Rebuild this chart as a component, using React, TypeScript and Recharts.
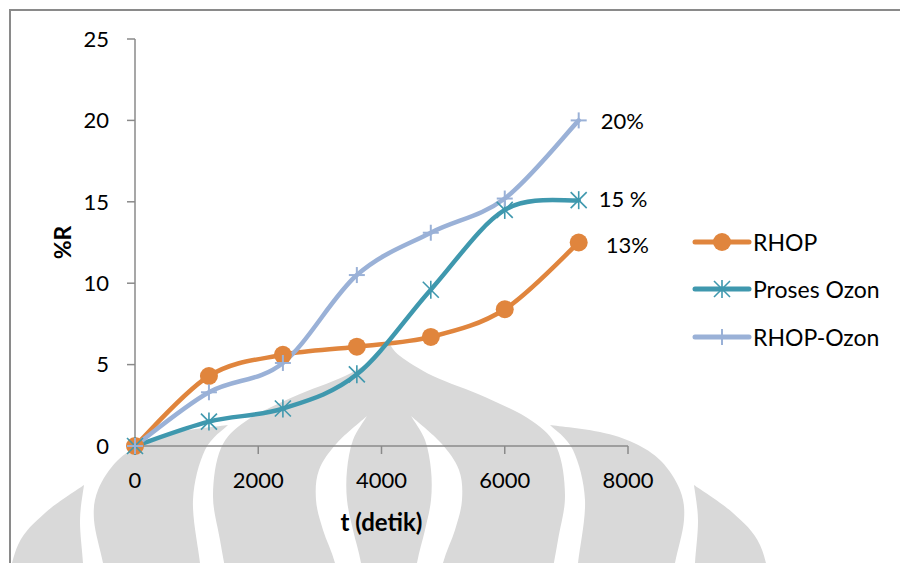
import React from 'react';
import { LineChart, Line, XAxis, YAxis, Legend, Label } from 'recharts';

// sampling times (s) and removal (%R) per treatment
const times = [0, 1200, 2400, 3600, 4800, 6000, 7200];
const rhop = [0, 4.3, 5.6, 6.1, 6.7, 8.4, 12.5];
const prosesOzon = [0, 1.5, 2.3, 4.4, 9.6, 14.5, 15.1];
const rhopOzon = [0, 3.3, 5.1, 10.5, 13.1, 15.2, 20.0];
const xTicks = [0, 2000, 4000, 6000, 8000];
const yTicks = [0, 5, 10, 15, 20, 25];

const data = times.map((t, i) => ({ t, rhop: rhop[i], prosesOzon: prosesOzon[i], rhopOzon: rhopOzon[i] }));

const series = [
  { key: 'rhop', name: 'RHOP', color: '#E0853D', marker: 'circle', unit: '%', dx: 27, dy: 2 },
  { key: 'prosesOzon', name: 'Proses Ozon', color: '#3F98AE', marker: 'star', unit: ' %', dx: 20, dy: -2 },
  { key: 'rhopOzon', name: 'RHOP-Ozon', color: '#9AB1D7', marker: 'plus', unit: '%', dx: 22, dy: 0 },
];

const FONT = 'Lato, "Open Sans", sans-serif';
const AXIS_GRAY = '#8a8a8a';
const WM_GRAY = '#d9d9d9';

type Pt = [number, number];

// Catmull-Rom style bezier segments (same smoothing as spreadsheet "smoothed line")
const bezierSegments = (pts: Pt[]) =>
  pts.slice(1).map((p2, i) => {
    const p1 = pts[i];
    const p0 = pts[i - 1] || p1;
    const p3 = pts[i + 2] || p2;
    return [
      p1[0] + (p2[0] - p0[0]) / 6,
      p1[1] + (p2[1] - p0[1]) / 6,
      p2[0] - (p3[0] - p1[0]) / 6,
      p2[1] - (p3[1] - p1[1]) / 6,
      p2[0],
      p2[1],
    ];
  });

const smoothCurve = (context: any) => {
  let pts: Pt[] = [];
  return {
    areaStart() {},
    areaEnd() {},
    lineStart() {
      pts = [];
    },
    lineEnd() {
      if (!pts.length) return;
      context.moveTo(pts[0][0], pts[0][1]);
      bezierSegments(pts).forEach((s) => context.bezierCurveTo(s[0], s[1], s[2], s[3], s[4], s[5]));
    },
    point(x: number, y: number) {
      pts.push([+x, +y]);
    },
  };
};

const renderMarker = (kind: string, cx: number, cy: number, color: string, key?: string | number) => {
  if (cx == null || cy == null) return <g key={key} />;
  if (kind === 'circle') return <circle key={key} cx={cx} cy={cy} r={9} fill={color} />;
  const h = 8;
  if (kind === 'star') {
    return (
      <g key={key} stroke={color} strokeWidth={1.6}>
        <line x1={cx - h} y1={cy - h} x2={cx + h} y2={cy + h} />
        <line x1={cx - h} y1={cy + h} x2={cx + h} y2={cy - h} />
        <line x1={cx} y1={cy - h - 1} x2={cx} y2={cy + h + 1} />
      </g>
    );
  }
  return (
    <g key={key} stroke={color} strokeWidth={2}>
      <line x1={cx - h} y1={cy} x2={cx + h} y2={cy} />
      <line x1={cx} y1={cy - h} x2={cx} y2={cy + h} />
    </g>
  );
};

// background logo, built symmetric around its centre line
const WM_CX = 389;
const mirror = (pts: Pt[]): Pt[] => pts.map(([x, y]) => [2 * WM_CX - x, y] as Pt);
const splinePath = (pts: Pt[]) => bezierSegments(pts).map((s) => `C${s.join(' ')}`).join(' ');
const shape = (a: Pt[], b: Pt[]) => {
  const rb = [...b].reverse();
  return `M${a[0].join(' ')} ${splinePath(a)} L${rb[0].join(' ')} ${splinePath(rb)} Z`;
};

const domeSide: Pt[] = [[389, 343], [400, 356], [433, 376], [485, 397], [532, 421], [557, 448], [565, 495], [558, 540], [547, 600]];
const flameOuter: Pt[] = [[411, 416], [441, 443], [459, 470], [462, 500], [455, 530], [443, 563], [437, 600]];
const flameInner: Pt[] = [[411, 416], [425, 440], [431, 470], [431, 500], [425, 530], [417, 563], [413, 600]];
const petalOuter: Pt[] = [[550, 425], [600, 432], [634, 443], [661, 461], [680, 490], [684, 520], [675, 563], [668, 600]];
const petalInner: Pt[] = [[550, 425], [573, 450], [585, 500], [578, 563], [574, 600]];
const tipOuter: Pt[] = [[694, 485], [733, 513], [760, 545], [774, 600]];
const tipInner: Pt[] = [[694, 485], [698, 520], [695, 563], [693, 600]];

const Watermark = () => (
  <svg width={900} height={563} style={{ position: 'absolute', left: 0, top: 0 }}>
    <path d={shape(domeSide, mirror(domeSide))} fill={WM_GRAY} />
    <path d={shape(flameOuter, flameInner)} fill="#fff" />
    <path d={shape(mirror(flameOuter), mirror(flameInner))} fill="#fff" />
    <path d={shape(petalOuter, petalInner)} fill={WM_GRAY} />
    <path d={shape(mirror(petalOuter), mirror(petalInner))} fill={WM_GRAY} />
    <path d={shape(tipOuter, tipInner)} fill={WM_GRAY} />
    <path d={shape(mirror(tipOuter), mirror(tipInner))} fill={WM_GRAY} />
  </svg>
);

const LegendBox = () => (
  <div style={{ fontFamily: FONT, fontSize: 23, color: '#000' }}>
    {series.map((s) => (
      <div key={s.key} style={{ display: 'flex', alignItems: 'center', height: 47.5, whiteSpace: 'nowrap' }}>
        <svg width={58} height={20} style={{ overflow: 'visible' }}>
          <line x1={2} y1={10} x2={56} y2={10} stroke={s.color} strokeWidth={5} strokeLinecap="round" />
          {renderMarker(s.marker, 29, 10, s.color)}
        </svg>
        <span style={{ marginLeft: 2 }}>{s.name}</span>
      </div>
    ))}
  </div>
);

const endLabel = (s: (typeof series)[number]) => (props: any) => {
  const { x, y, value, index } = props;
  if (index !== times.length - 1) return null;
  return (
    <text x={x + s.dx} y={y + s.dy} dominantBaseline="central" fontFamily={FONT} fontSize={22} fill="#000">
      {Math.round(value)}
      {s.unit}
    </text>
  );
};

export default function App() {
  return (
    <div style={{ position: 'relative', width: 900, height: 563, overflow: 'hidden', background: '#fff' }}>
      <style>{'body { margin: 0; }'}</style>
      <Watermark />
      <div
        style={{
          position: 'absolute',
          left: 9,
          top: 9,
          right: -10,
          bottom: -10,
          borderTop: `2px solid ${AXIS_GRAY}`,
          borderLeft: `2px solid ${AXIS_GRAY}`,
        }}
      />
      <div style={{ position: 'absolute', left: 0, top: 0 }}>
        <LineChart
          width={900}
          height={563}
          data={data}
          margin={{ top: 39, right: 272, bottom: 57, left: 75 }}
          style={{ fontFamily: FONT }}
        >
          <XAxis
            dataKey="t"
            type="number"
            domain={[0, 8000]}
            ticks={xTicks}
            tickSize={8}
            tickMargin={18}
            height={60}
            axisLine={{ stroke: AXIS_GRAY, strokeWidth: 1.5 }}
            tickLine={{ stroke: AXIS_GRAY, strokeWidth: 1.5 }}
            tick={{ fill: '#000', fontSize: 22, fontFamily: FONT }}
          >
            <Label
              content={({ viewBox }: any) => (
                <text
                  x={viewBox.x + viewBox.width / 2}
                  y={viewBox.y + 75}
                  textAnchor="middle"
                  dominantBaseline="central"
                  fontFamily={FONT}
                  fontWeight="bold"
                  fontSize={24}
                  fill="#000"
                >
                  t (detik)
                </text>
              )}
            />
          </XAxis>
          <YAxis
            type="number"
            domain={[0, 25]}
            ticks={yTicks}
            width={60}
            tickSize={8}
            tickMargin={18}
            axisLine={{ stroke: AXIS_GRAY, strokeWidth: 1.5 }}
            tickLine={{ stroke: AXIS_GRAY, strokeWidth: 1.5 }}
            tick={{ fill: '#000', fontSize: 22, fontFamily: FONT }}
          >
            <Label
              content={({ viewBox }: any) => {
                const lx = viewBox.x - 13;
                const ly = viewBox.y + viewBox.height / 2;
                return (
                  <text
                    x={lx}
                    y={ly}
                    transform={`rotate(-90 ${lx} ${ly})`}
                    textAnchor="middle"
                    dominantBaseline="central"
                    fontFamily={FONT}
                    fontWeight="bold"
                    fontSize={23}
                    fill="#000"
                  >
                    %R
                  </text>
                );
              }}
            />
          </YAxis>
          <Legend
            layout="vertical"
            align="center"
            verticalAlign="middle"
            wrapperStyle={{ left: 693, top: 218, width: 200 }}
            content={() => <LegendBox />}
          />
          {series.map((s) => (
            <Line
              key={s.key}
              dataKey={s.key}
              name={s.name}
              type={smoothCurve as any}
              stroke={s.color}
              strokeWidth={4.5}
              strokeLinecap="round"
              isAnimationActive={false}
              activeDot={false}
              dot={(p: any) => renderMarker(s.marker, p.cx, p.cy, s.color, `${s.key}-${p.index}`)}
              label={endLabel(s)}
            />
          ))}
        </LineChart>
      </div>
    </div>
  );
}
